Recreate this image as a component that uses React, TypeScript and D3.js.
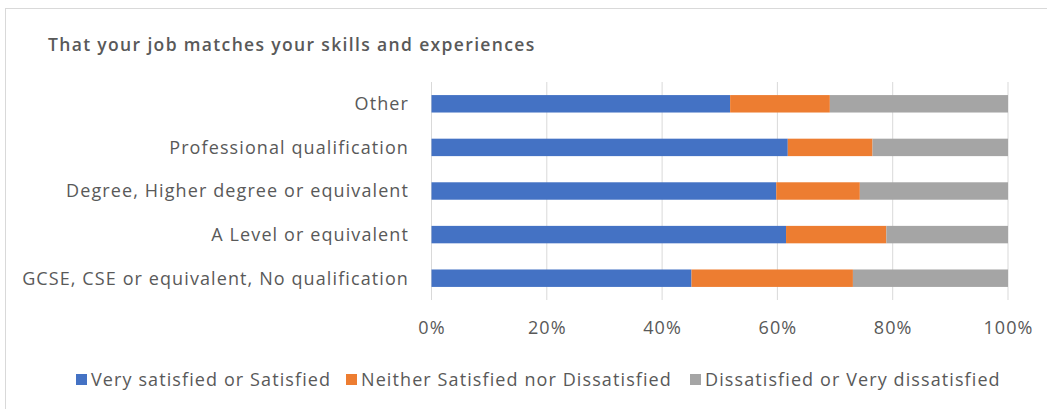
import React, { useEffect, useRef } from "react";
import * as d3 from "d3";

const title = "That your job matches your skills and experiences";

const categories = [
  "Other",
  "Professional qualification",
  "Degree, Higher degree or equivalent",
  "A Level or equivalent",
  "GCSE, CSE or equivalent, No qualification",
];

const seriesNames = [
  "Very satisfied or Satisfied",
  "Neither Satisfied nor Dissatisfied",
  "Dissatisfied or Very dissatisfied",
];

// percentages per category, same order as categories
const satisfied = [51.8, 61.8, 59.8, 61.5, 45.1];
const neither = [17.3, 14.7, 14.5, 17.4, 28.0];
const dissatisfied = [30.9, 23.5, 25.7, 21.1, 26.9];

const tickValues = [0, 0.2, 0.4, 0.6, 0.8, 1];

const colors = ["#4472c4", "#ed7d31", "#a5a5a5"];

const App: React.FC = () => {
  const svgRef = useRef<SVGSVGElement | null>(null);

  useEffect(() => {
    document.body.style.margin = "0";
    if (!svgRef.current) return;

    const width = 1047;
    const height = 409;
    const font = "'Open Sans', sans-serif";
    const textColor = "#595959";
    const spacing = "1.1px";
    const fontSize = 18;

    const svg = d3.select(svgRef.current);
    svg.selectAll("*").remove();
    svg.attr("width", width).attr("height", height);

    // chart area border
    svg
      .append("rect")
      .attr("x", 5.5)
      .attr("y", 8.5)
      .attr("width", width + 10)
      .attr("height", height + 10)
      .attr("fill", "#fff")
      .attr("stroke", "#d9d9d9");

    svg
      .append("text")
      .attr("x", 48)
      .attr("y", 51)
      .attr("font-family", font)
      .attr("font-size", 17.5)
      .attr("font-weight", 600)
      .attr("letter-spacing", "1.35px")
      .attr("fill", textColor)
      .text(title);

    const xScale = d3.scaleLinear().domain([0, 1]).range([431.5, 1008]);
    const yScale = d3
      .scaleBand<string>()
      .domain(categories)
      .range([82, 300])
      .paddingInner(0.6)
      .paddingOuter(0.3);

    // gridlines
    svg
      .append("g")
      .selectAll("line")
      .data(tickValues)
      .enter()
      .append("line")
      .attr("x1", (d) => xScale(d))
      .attr("x2", (d) => xScale(d))
      .attr("y1", 82)
      .attr("y2", 300)
      .attr("stroke", "#d9d9d9")
      .attr("stroke-width", 1);

    // stacked bars
    const rows = categories.map((c, i) => ({
      cat: c,
      vals: [satisfied[i], neither[i], dissatisfied[i]],
    }));
    rows.forEach((r) => {
      const total = d3.sum(r.vals);
      let acc = 0;
      r.vals.forEach((v, j) => {
        const x0 = acc / total;
        acc += v;
        const x1 = acc / total;
        svg
          .append("rect")
          .attr("x", xScale(x0))
          .attr("y", yScale(r.cat)!)
          .attr("width", xScale(x1) - xScale(x0))
          .attr("height", yScale.bandwidth())
          .attr("fill", colors[j]);
      });
    });

    // category labels
    svg
      .append("g")
      .selectAll("text")
      .data(categories)
      .enter()
      .append("text")
      .attr("x", 409)
      .attr("y", (d) => yScale(d)! + yScale.bandwidth() / 2)
      .attr("dy", "0.35em")
      .attr("text-anchor", "end")
      .attr("font-family", font)
      .attr("font-size", fontSize)
      .attr("letter-spacing", spacing)
      .attr("fill", textColor)
      .text((d) => d);

    // x tick labels
    svg
      .append("g")
      .selectAll("text")
      .data(tickValues)
      .enter()
      .append("text")
      .attr("x", (d) => xScale(d) + 0.5)
      .attr("y", 334)
      .attr("text-anchor", "middle")
      .attr("font-family", font)
      .attr("font-size", fontSize)
      .attr("letter-spacing", spacing)
      .attr("fill", textColor)
      .text((d) => d3.format(".0%")(d));

    // legend
    const legendX = [76, 346, 690];
    seriesNames.forEach((name, i) => {
      svg
        .append("rect")
        .attr("x", legendX[i])
        .attr("y", 374)
        .attr("width", 11)
        .attr("height", 11)
        .attr("fill", colors[i]);
      svg
        .append("text")
        .attr("x", legendX[i] + 15)
        .attr("y", 386)
        .attr("font-family", font)
        .attr("font-size", fontSize)
        .attr("letter-spacing", spacing)
        .attr("fill", textColor)
        .text(name);
    });
  }, []);

  return <svg ref={svgRef}></svg>;
};

export default App;
